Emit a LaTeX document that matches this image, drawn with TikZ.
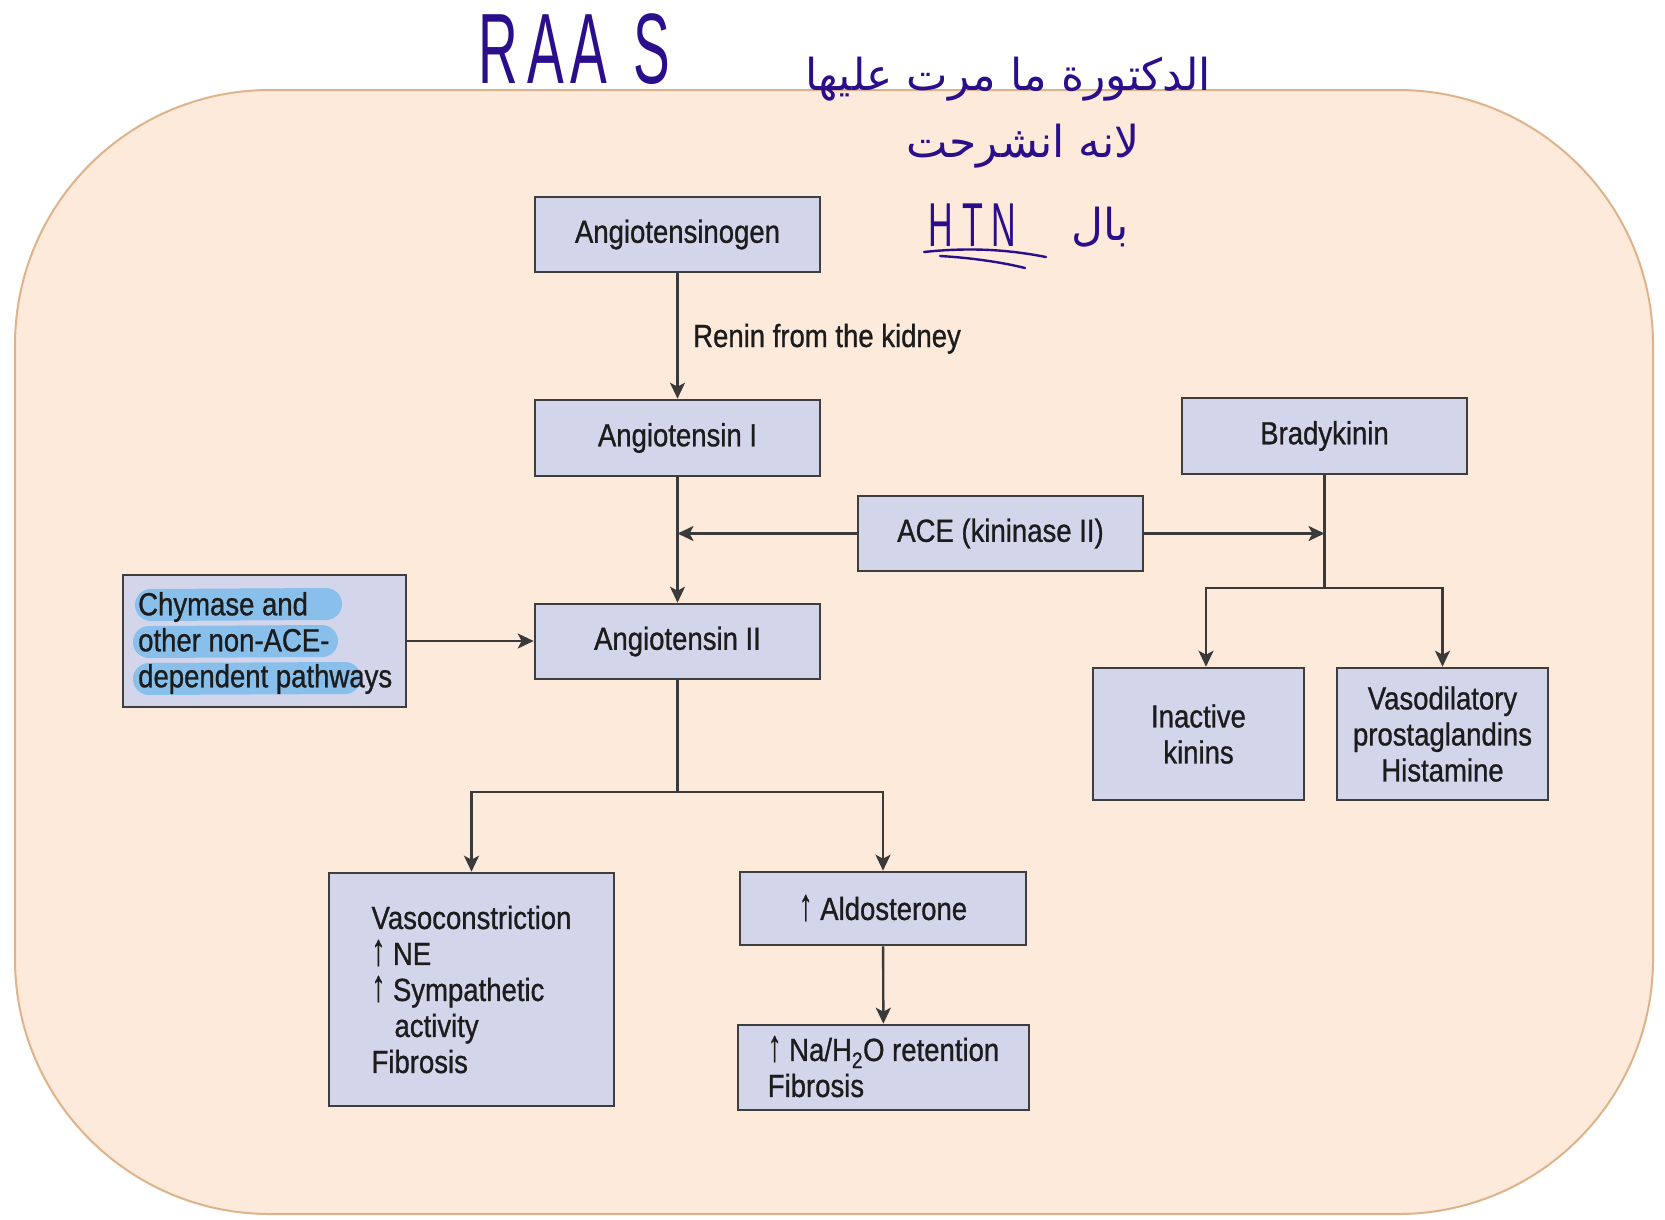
\documentclass[tikz,border=0pt]{standalone}
\usepackage{fontspec}
\setmainfont{Liberation Sans}[FakeStretch=0.86, FakeBold=0.9]
\newfontfamily\handfont{Liberation Sans}[FakeStretch=0.55]
\newfontfamily\arabicfont[Script=Arabic]{DejaVu Sans}
\TeXXeTstate=1
\usetikzlibrary{arrows.meta}

\definecolor{bgfill}{RGB}{253,234,218}
\definecolor{bgline}{RGB}{222,178,138}
\definecolor{boxfill}{RGB}{211,213,235}
\definecolor{boxline}{RGB}{62,62,62}
\definecolor{wire}{RGB}{58,58,58}
\definecolor{ink}{RGB}{28,28,28}
\definecolor{pen}{RGB}{42,14,140}
\definecolor{marker}{RGB}{137,192,235}

% tall thin "increase" arrow that does not disturb the line spacing
\newcommand\incr{\smash{\scalebox{1}[1.4]{↑}}}

\tikzset{
  box/.style={draw=boxline, fill=boxfill, line width=2.6pt, inner sep=0pt,
    text=ink, font=\fontsize{32}{36}\selectfont},
  wirestyle/.style={draw=wire, line width=2.4pt},
  arr/.style={wirestyle, -{Stealth[length=16pt,width=15pt,inset=4pt]}},
  lbl/.style={text=ink, font=\fontsize{32}{36}\selectfont, inner sep=0pt},
  hand/.style={text=pen, inner sep=0pt},
  hilite/.style={draw=marker, line width=32pt, line cap=round}
}

\begin{document}
\begin{tikzpicture}[x=1pt, y=-1pt]
\useasboundingbox (0,0) rectangle (1665,1219);
\fill[white] (0,0) rectangle (1665,1219);

% panel
\draw[fill=bgfill, draw=bgline, line width=2pt, rounded corners=255pt]
  (15,90) rectangle (1653,1214);

% handwritten notes
\node[hand, anchor=base west, font=\handfont\fontsize{100}{100}\selectfont]
  (raas) at (478,83) {R\hspace{10pt}A\hspace{6pt}A\hspace{26pt}S};
\node[hand, anchor=base, font=\arabicfont\fontsize{44}{50}\selectfont]
  (note1) at (1008,90) {\beginR الدكتورة ما مرت عليها\endR};
\node[hand, anchor=base, font=\arabicfont\fontsize{44}{50}\selectfont]
  (note2) at (1023,157) {\beginR لانه انشرحت\endR};
\node[hand, anchor=base, font=\arabicfont\fontsize{44}{50}\selectfont]
  (note3) at (1100,240) {\beginR بال\endR};
\node[hand, anchor=base west, font=\handfont\fontsize{62}{62}\selectfont]
  (htn) at (928,246) {H\hspace{10pt}T\hspace{8pt}N};
\draw[pen, line width=2.4pt, line cap=round]
  (924,252) .. controls (980,246) and (1020,252) .. (1046,257);
\draw[pen, line width=2.4pt, line cap=round]
  (940,256) .. controls (975,258) and (1005,263) .. (1025,268);

% boxes of the cascade
\node[box, minimum width=285pt, minimum height=75pt] (agt) at (677.5,234.5) {Angiotensinogen};
\node[box, minimum width=285pt, minimum height=76pt] (ang1) at (677.5,438) {Angiotensin I};
\node[box, minimum width=285pt, minimum height=75pt] (ang2) at (677.5,641.5) {Angiotensin II};
\node[box, minimum width=285pt, minimum height=75pt] (ace) at (1000.5,533.5) {ACE (kininase II)};
\node[box, minimum width=285pt, minimum height=76pt] (brady) at (1324.5,436) {Bradykinin};
\node[box, minimum width=211pt, minimum height=132pt, align=center] (inact) at (1198.5,734)
  {Inactive\\kinins};
\node[box, minimum width=211pt, minimum height=132pt, align=center] (vdil) at (1442.5,734)
  {Vasodilatory\\prostaglandins\\Histamine};
\node[box, minimum width=285pt, minimum height=233pt, align=left] (vc) at (471.5,989.5)
  {Vasoconstriction\\\incr{} NE\\\incr{} Sympathetic\\\hspace*{23pt}activity\\Fibrosis};
\node[box, minimum width=286pt, minimum height=73pt] (ald) at (883,908.5) {\incr{} Aldosterone};
\node[box, minimum width=291pt, minimum height=85pt, align=left] (na) at (883.5,1067.5)
  {\incr{} Na/H\textsubscript{2}O retention\\Fibrosis};

% chymase box with marker strokes under its text
\node[box, minimum width=283pt, minimum height=132pt] (chy) at (264.5,641) {};
\draw[hilite] (151,605) -- (326,604);
\draw[hilite] (149,642) -- (322,641);
\draw[hilite] (149,679) -- (345,678);
\node[lbl, anchor=west, align=left] (chytext) at (138,643)
  {Chymase and\\other non-ACE-\\dependent pathways};

% label on the renin step
\node[lbl, anchor=base west] (renin) at (693,347) {Renin from the kidney};

% junctions
\coordinate (bj) at (1324.5,588);
\coordinate (aj) at (677.5,792);

% connectors
\draw[arr] (agt) -- (ang1);
\draw[arr] (ang1) -- (ang2);
\draw[arr] (ace.west) -- (ace.west -| ang1.south);
\draw[arr] (ace.east) -- (ace.east -| brady.south);
\draw[wirestyle] (brady.south) -- (bj);
\draw[arr] (bj) -| ([xshift=7.5pt]inact.north);
\draw[arr] (bj) -| (vdil.north);
\draw[arr] (chy.east) -- (chy.east -| ang2.west);
\draw[wirestyle] (ang2.south) -- (aj);
\draw[arr] (aj) -| (vc.north);
\draw[arr] (aj) -| (ald.north);
\draw[arr] (ald) -- (na);
\end{tikzpicture}
\end{document}
